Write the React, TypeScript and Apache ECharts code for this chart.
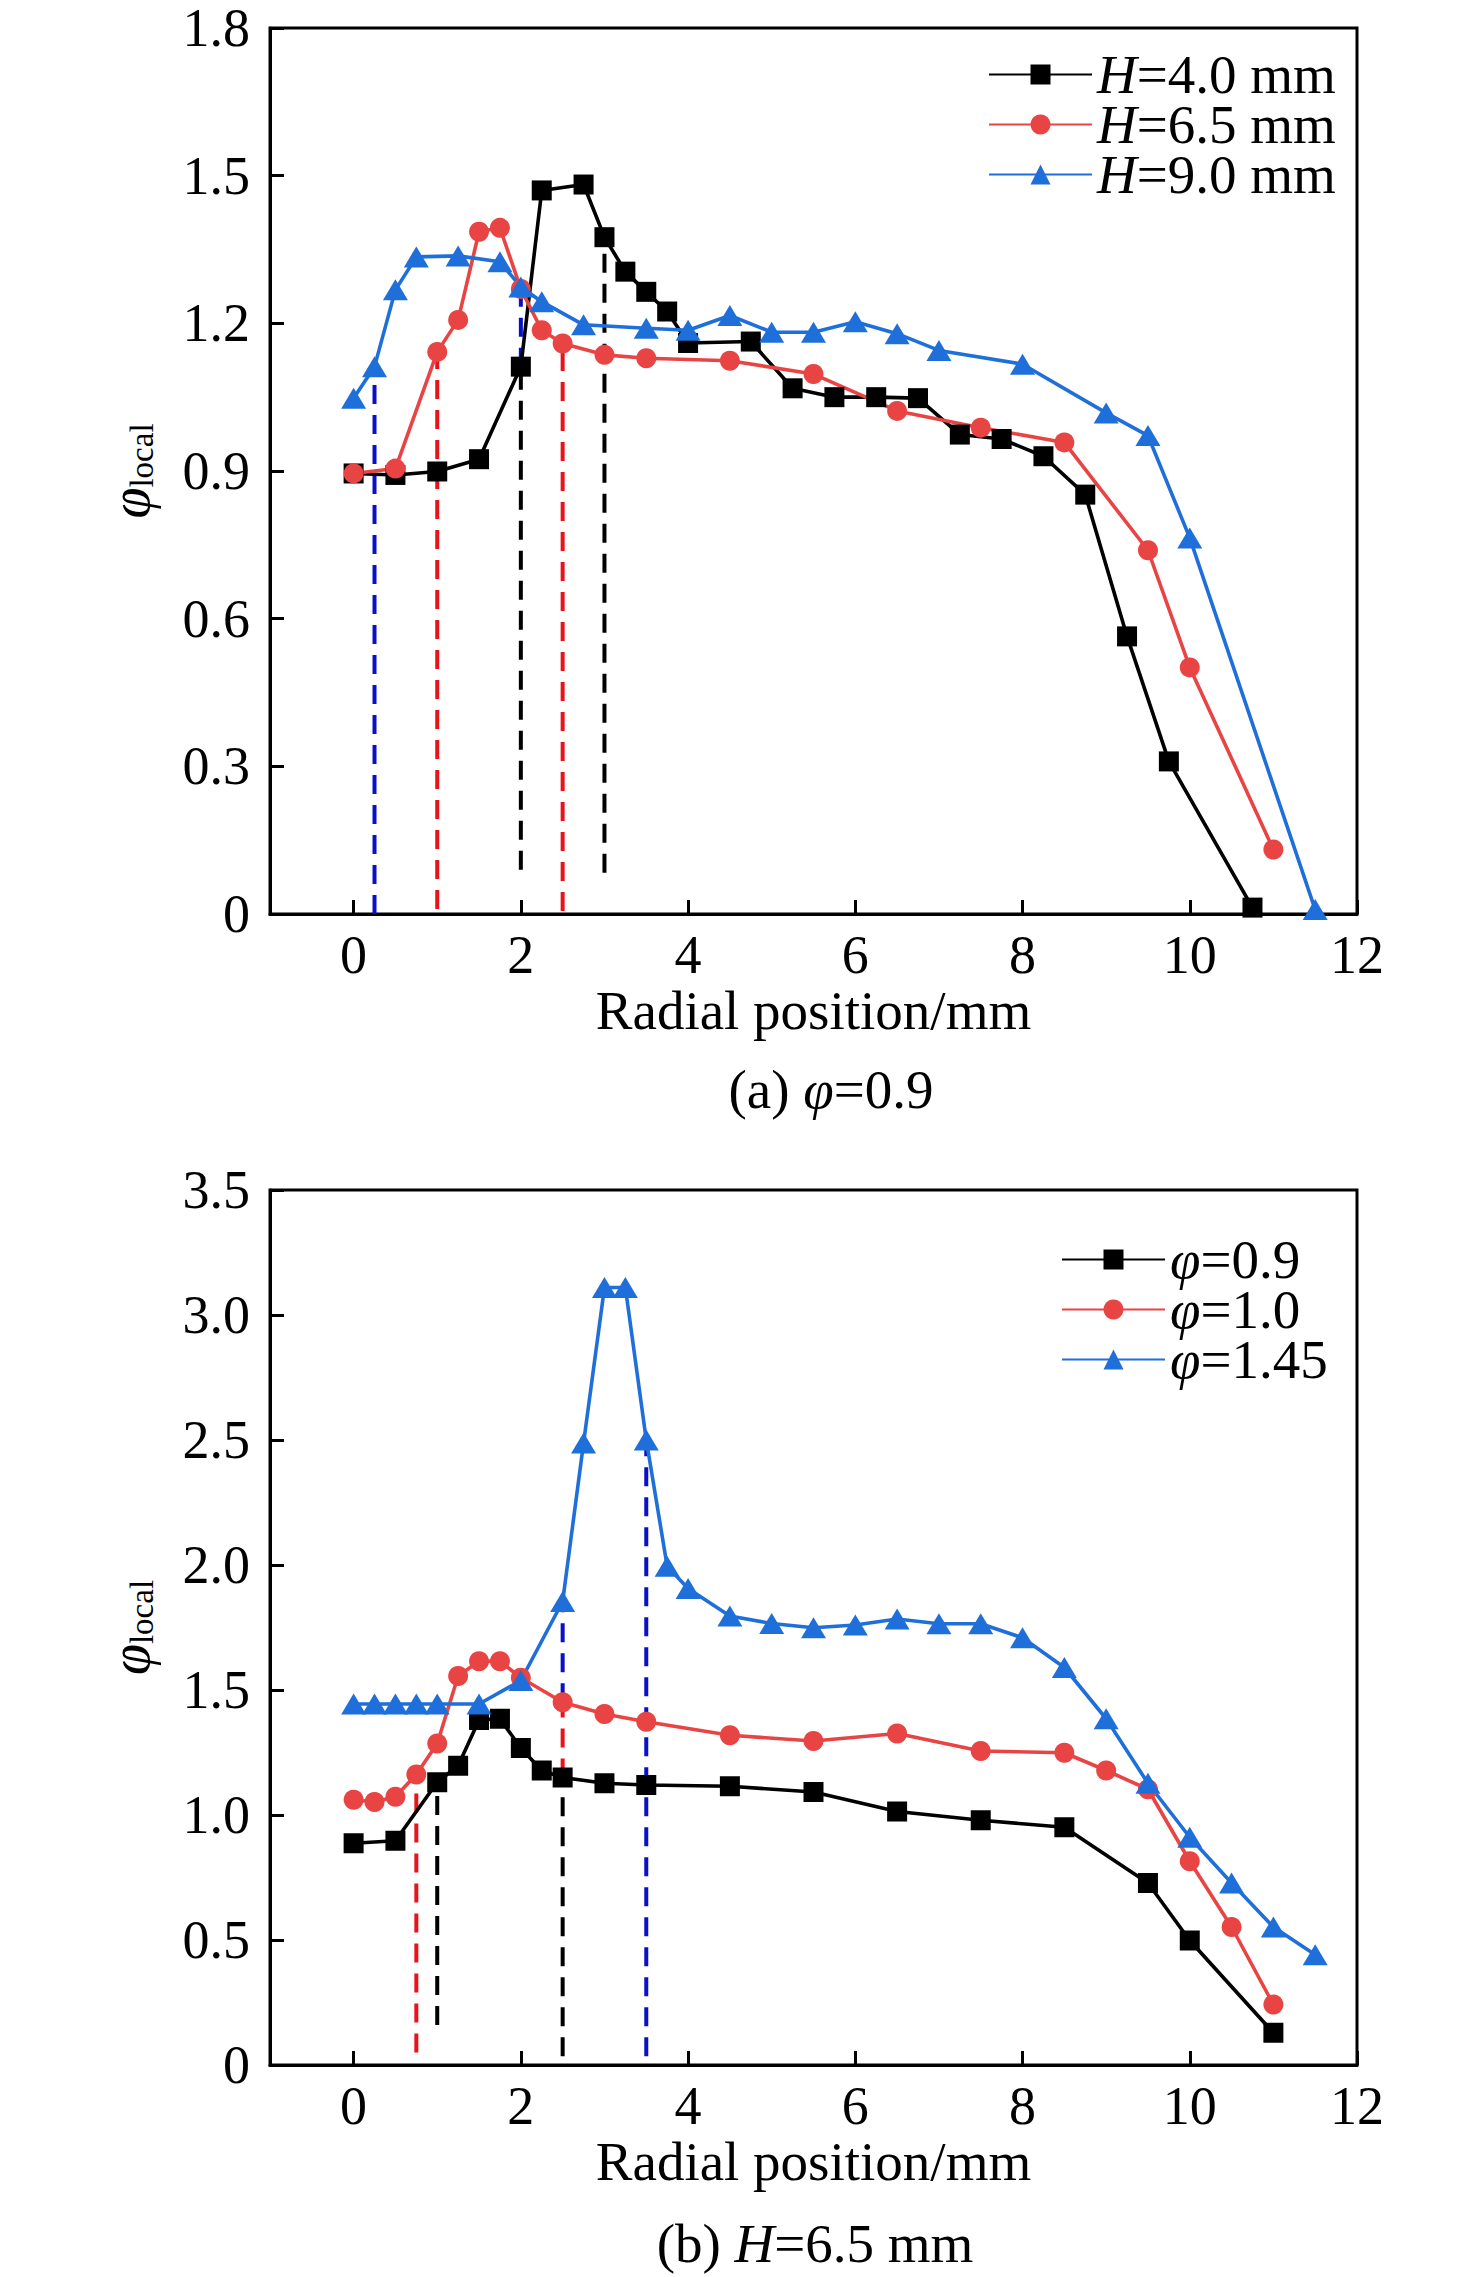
import React, { useEffect, useRef } from 'react';
import * as echarts from 'echarts';

const FONT = '"Liberation Serif", "Times New Roman", Times, serif';

// ---------- data: (a) phi = 0.9 ----------
const xH40 = [0, 0.5, 1, 1.5, 2, 2.25, 2.75, 3, 3.25, 3.5, 3.75, 4, 4.75, 5.25, 5.75, 6.25, 6.75, 7.25, 7.75, 8.25, 8.75, 9.25, 9.75, 10.75];
const yH40 = [0.895, 0.892, 0.899, 0.924, 1.112, 1.47, 1.482, 1.375, 1.305, 1.264, 1.224, 1.16, 1.163, 1.068, 1.05, 1.05, 1.048, 0.974, 0.965, 0.93, 0.852, 0.564, 0.31, 0.013];
const xH65 = [0, 0.5, 1, 1.25, 1.5, 1.75, 2, 2.25, 2.5, 3, 3.5, 4.5, 5.5, 6.5, 7.5, 8.5, 9.5, 10, 11];
const yH65 = [0.895, 0.905, 1.142, 1.207, 1.386, 1.394, 1.27, 1.186, 1.159, 1.136, 1.129, 1.124, 1.097, 1.022, 0.988, 0.958, 0.739, 0.501, 0.131];
const xH90 = [0, 0.25, 0.5, 0.75, 1.25, 1.75, 2, 2.25, 2.75, 3.5, 4, 4.5, 5, 5.5, 6, 6.5, 7, 8, 9, 9.5, 10, 11.5];
const yH90 = [1.048, 1.112, 1.268, 1.335, 1.337, 1.325, 1.274, 1.244, 1.197, 1.19, 1.186, 1.216, 1.182, 1.182, 1.203, 1.179, 1.145, 1.117, 1.018, 0.972, 0.764, 0.009];

// dashed guide lines (a)
const dashXA = [0.25, 1, 2, 2, 2.5, 3];
const dashFromA = [0, 0.01, 0.09, 1.112, 0.006, 0.084];
const dashToA = [1.112, 1.142, 1.112, 1.274, 1.159, 1.375];
const dashKindA = ['blue', 'red', 'black', 'blue', 'red', 'black'];

// ---------- data: (b) H = 6.5 mm ----------
const xP09 = [0, 0.5, 1, 1.25, 1.5, 1.75, 2, 2.25, 2.5, 3, 3.5, 4.5, 5.5, 6.5, 7.5, 8.5, 9.5, 10, 11];
const yP09 = [0.887, 0.897, 1.131, 1.197, 1.38, 1.385, 1.268, 1.178, 1.15, 1.127, 1.12, 1.115, 1.092, 1.014, 0.979, 0.951, 0.728, 0.498, 0.129];
const xP10 = [0, 0.25, 0.5, 0.75, 1, 1.25, 1.5, 1.75, 2, 2.5, 3, 3.5, 4.5, 5.5, 6.5, 7.5, 8.5, 9, 9.5, 10, 10.5, 11];
const yP10 = [1.061, 1.052, 1.073, 1.162, 1.286, 1.556, 1.615, 1.615, 1.549, 1.451, 1.404, 1.373, 1.319, 1.296, 1.326, 1.256, 1.249, 1.178, 1.103, 0.815, 0.552, 0.242];
const xP145 = [0, 0.25, 0.5, 0.75, 1, 1.5, 2, 2.5, 2.75, 3, 3.25, 3.5, 3.75, 4, 4.5, 5, 5.5, 6, 6.5, 7, 7.5, 8, 8.5, 9, 9.5, 10, 10.5, 11, 11.5];
const yP145 = [1.444, 1.444, 1.444, 1.444, 1.444, 1.444, 1.538, 1.854, 2.488, 3.11, 3.11, 2.5, 1.995, 1.906, 1.796, 1.766, 1.749, 1.76, 1.784, 1.765, 1.765, 1.709, 1.59, 1.385, 1.127, 0.911, 0.728, 0.552, 0.441];

// dashed guide lines (b)
const dashXB = [0.75, 1, 2.5, 2.5, 2.5, 3.5];
const dashFromB = [0.05, 0.16, 0.035, 1.15, 1.451, 0.035];
const dashToB = [1.162, 1.131, 1.15, 1.451, 1.854, 2.5];
const dashKindB = ['red', 'black', 'black', 'red', 'blue', 'blue'];

// axes
const xTickValues = [0, 2, 4, 6, 8, 10, 12];
const namesA = ['H=4.0 mm', 'H=6.5 mm', 'H=9.0 mm'];
const namesB = ['φ=0.9', 'φ=1.0', 'φ=1.45'];

const BLACK = '#000000';
const RED = '#E94444';
const BLUE = '#1F6FDB';
const DASH_COLORS: Record<string, string> = { blue: '#0A10C8', red: '#E8141C', black: '#000000' };

function xAxisOpt(gridIndex: number) {
  return {
    type: 'value',
    gridIndex,
    min: -1,
    max: 12,
    name: 'Radial position/mm',
    nameLocation: 'middle',
    nameGap: 67,
    nameTextStyle: { fontFamily: FONT, fontSize: 55, color: '#000' },
    axisLine: { show: true, onZero: false, lineStyle: { color: '#000', width: 3 } },
    axisTick: { show: true, inside: true, length: 14, lineStyle: { color: '#000', width: 3 }, customValues: xTickValues },
    axisLabel: { show: true, margin: 14, fontFamily: FONT, fontSize: 54, color: '#000', customValues: xTickValues },
    splitLine: { show: false },
  };
}

function yAxisOpt(gridIndex: number, max: number, interval: number) {
  return {
    type: 'value',
    gridIndex,
    min: 0,
    max,
    interval,
    name: '{p|φ}{s|local}',
    nameLocation: 'middle',
    nameGap: 112,
    nameRotate: 90,
    nameTextStyle: {
      rich: {
        p: { fontFamily: FONT, fontStyle: 'italic', fontSize: 56, color: '#000' },
        s: { fontFamily: FONT, fontSize: 33, color: '#000', padding: [24, 0, 0, 0] },
      },
    },
    axisLine: { show: true, onZero: false, lineStyle: { color: '#000', width: 3 } },
    axisTick: { show: true, inside: true, length: 14, lineStyle: { color: '#000', width: 3 } },
    axisLabel: {
      margin: 20,
      fontFamily: FONT,
      fontSize: 54,
      lineHeight: 40,
      color: '#000',
      formatter: (v: number) => (v === 0 ? '0' : v.toFixed(1)),
    },
    splitLine: { show: false },
  };
}

function lineSeries(name: string, xs: number[], ys: number[], axis: number, symbol: string, size: any, color: string) {
  return {
    name,
    type: 'line',
    xAxisIndex: axis,
    yAxisIndex: axis,
    data: xs.map((x, i) => [x, ys[i]]),
    symbol,
    symbolSize: size,
    itemStyle: { color },
    lineStyle: { color, width: 3.6 },
    z: 3,
  };
}

function dashSeries(xs: number[], from: number[], to: number[], kinds: string[], axis: number) {
  return xs.map((x, i) => ({
    name: 'guide' + axis + '_' + i,
    type: 'line',
    xAxisIndex: axis,
    yAxisIndex: axis,
    data: [
      [x, from[i]],
      [x, to[i]],
    ],
    symbol: 'none',
    lineStyle: { color: DASH_COLORS[kinds[i]], width: 4, type: [19, 11] },
    z: 2,
    silent: true,
  }));
}

function legendOpt(names: string[], left: number, top: number, italic: string, gap: number) {
  return {
    orient: 'vertical',
    left,
    top,
    padding: 0,
    itemWidth: 103,
    itemHeight: 25,
    itemGap: gap,
    selectedMode: false,
    data: names,
    formatter: (n: string) => '{i|' + italic + '}' + n.slice(1),
    textStyle: {
      fontFamily: FONT,
      fontSize: 55,
      color: '#000',
      rich: { i: { fontFamily: FONT, fontStyle: 'italic', fontSize: 55, color: '#000' } },
    },
  };
}

function caption(text: string, x: number, y: number) {
  return {
    type: 'text',
    x,
    y,
    style: {
      text,
      fontFamily: FONT,
      fontSize: 55,
      fill: '#000',
      align: 'center',
      textAlign: 'center',
      verticalAlign: 'middle',
      textVerticalAlign: 'middle',
      rich: { i: { fontFamily: FONT, fontStyle: 'italic', fontSize: 55, fill: '#000', color: '#000' } },
    },
  };
}

const option: any = {
  animation: false,
  backgroundColor: '#ffffff',
  grid: [
    { left: 270, top: 28, width: 1087, height: 886, show: true, borderColor: '#000', borderWidth: 3, containLabel: false },
    { left: 270, top: 1190, width: 1087, height: 875, show: true, borderColor: '#000', borderWidth: 3, containLabel: false },
  ],
  xAxis: [xAxisOpt(0), xAxisOpt(1)],
  yAxis: [yAxisOpt(0, 1.8, 0.3), yAxisOpt(1, 3.5, 0.5)],
  legend: [legendOpt(namesA, 988, 47, 'H', -5), legendOpt(namesB, 1061, 1232, 'φ', -5)],
  graphic: [caption('(a) {i|φ}=0.9', 831, 1089), caption('(b) {i|H}=6.5 mm', 815, 2243)],
  series: [
    ...dashSeries(dashXA, dashFromA, dashToA, dashKindA, 0),
    ...dashSeries(dashXB, dashFromB, dashToB, dashKindB, 1),
    lineSeries(namesA[0], xH40, yH40, 0, 'rect', 20, BLACK),
    lineSeries(namesA[1], xH65, yH65, 0, 'circle', 20, RED),
    lineSeries(namesA[2], xH90, yH90, 0, 'triangle', [25, 21], BLUE),
    lineSeries(namesB[0], xP09, yP09, 1, 'rect', 20, BLACK),
    lineSeries(namesB[1], xP10, yP10, 1, 'circle', 20, RED),
    lineSeries(namesB[2], xP145, yP145, 1, 'triangle', [25, 21], BLUE),
  ],
};

export default function App() {
  const ref = useRef<HTMLDivElement>(null);
  useEffect(() => {
    document.body.style.margin = '0';
    document.body.style.overflow = 'hidden';
    const chart = echarts.init(ref.current as HTMLDivElement, null, { renderer: 'svg' });
    chart.setOption(option);
    return () => chart.dispose();
  }, []);
  return <div ref={ref} style={{ width: 1476, height: 2277, background: '#fff' }} />;
}
